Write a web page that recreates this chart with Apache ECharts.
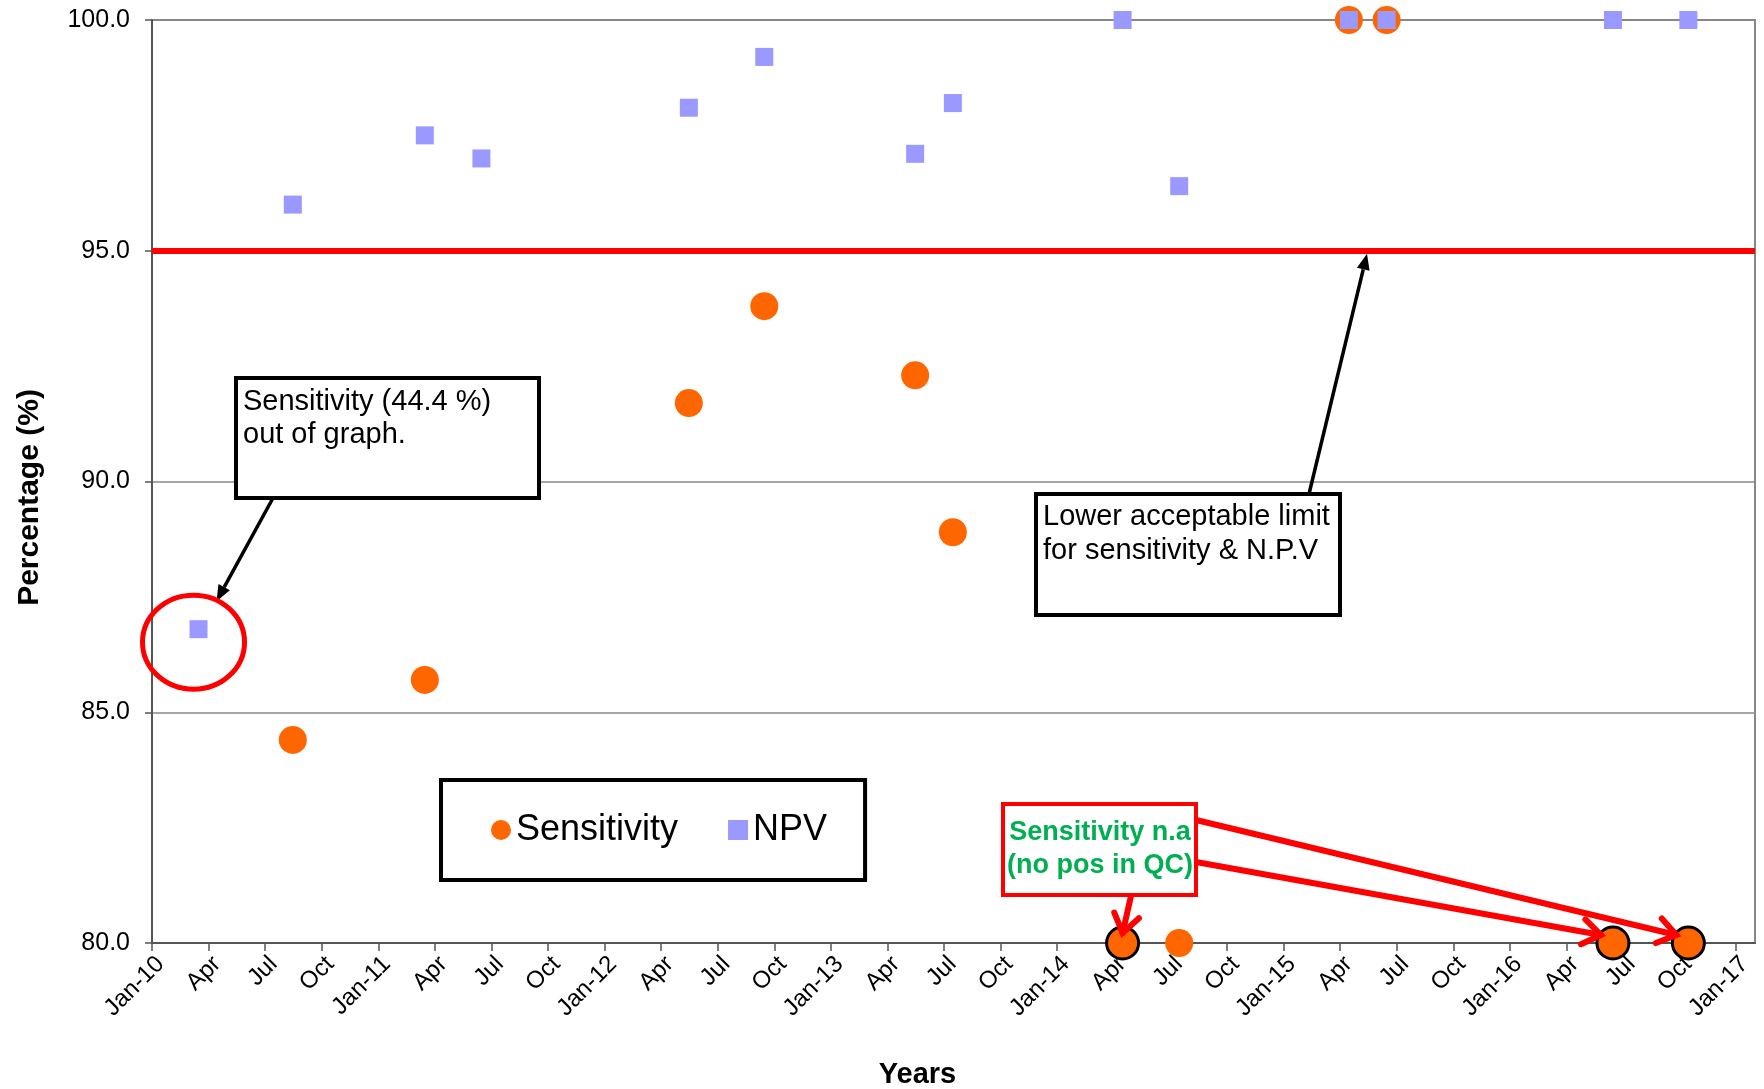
<!DOCTYPE html>
<html>
<head>
<meta charset="utf-8">
<script src="https://cdn.jsdelivr.net/npm/echarts@6/dist/echarts.min.js"></script>
<style>
html,body{margin:0;padding:0;background:#ffffff;}
#chart{width:1764px;height:1089px;}
</style>
</head>
<body>
<div id="chart"></div>
<script>
// ---------------- DATA ----------------
const tickLabels = ['Jan-10','Apr','Jul','Oct','Jan-11','Apr','Jul','Oct','Jan-12','Apr','Jul','Oct',
  'Jan-13','Apr','Jul','Oct','Jan-14','Apr','Jul','Oct','Jan-15','Apr','Jul','Oct','Jan-16','Apr','Jul','Oct','Jan-17'];
const sampleDates = ['2010-03-15','2010-08-15','2011-03-15','2011-06-15','2012-05-15','2012-09-15',
  '2013-05-15','2013-07-15','2014-04-15','2014-07-15','2015-04-15','2015-06-15','2016-06-15','2016-10-15'];
// Sensitivity (%) ; first value 44.4 is out of graph ; null = no result
const sensitivity = [44.4, 84.4, 85.7, null, 91.7, 93.8, 92.3, 88.9, 80, 80, 100, 100, 80, 80];
// Sensitivity not available (no positive in QC)
const sensNA = [false, false, false, false, false, false, false, false, true, false, false, false, true, true];
const npv = [86.8, 96.0, 97.5, 97.0, 98.1, 99.2, 97.1, 98.2, 100, 96.4, 100, 100, 100, 100];
const limitValue = 95;
const yTicks = [80, 85, 90, 95, 100];

// ---------------- HELPERS ----------------
const FONT = "'Liberation Sans', Arial, sans-serif";
const Y_MIN = 80, Y_MAX = 100;
function monthIndex(s) {
  const [y, m, d] = s.split('-').map(Number);
  return (y - 2010) * 12 + (m - 1) + (d - 1) / 30;
}
const xs = sampleDates.map(monthIndex);
const tickValues = tickLabels.map((_, i) => i * 3);

const sensData = [];
sensitivity.forEach((v, i) => {
  if (v === null || v < Y_MIN) return; // out of graph
  const item = { value: [xs[i], v] };
  if (sensNA[i]) {
    item.symbolSize = 32;
    item.itemStyle = { borderColor: '#000000', borderWidth: 3, opacity: 1 };
  }
  sensData.push(item);
});
const npvData = npv.map((v, i) => [xs[i], v]);

const chart = echarts.init(document.getElementById('chart'), null, { renderer: 'canvas' });

chart.setOption({
  animation: false,
  backgroundColor: '#ffffff',
  grid: {
    left: 152, right: 9, top: 20, bottom: 146,
    outerBoundsMode: 'none', containLabel: false,
    show: true, borderColor: '#888888', borderWidth: 2, backgroundColor: 'transparent'
  },
  legend: {
    left: 441, top: 780,
    orient: 'horizontal',
    padding: [32, 38, 32, 50],
    itemGap: 50, itemWidth: 20, itemHeight: 20,
    backgroundColor: '#ffffff', borderColor: '#000000', borderWidth: 4,
    textStyle: { fontSize: 36, color: '#000000', fontFamily: FONT },
    data: [{ name: 'Sensitivity', icon: 'circle' }, { name: 'NPV', icon: 'rect' }]
  },
  xAxis: {
    type: 'value', min: 0, max: 85,
    name: 'Years', nameLocation: 'middle', nameGap: 117,
    nameTextStyle: { fontSize: 29, fontWeight: 'bold', color: '#000000', fontFamily: FONT, padding: [0, 72, 0, 0] },
    axisLine: { show: true, onZero: false, lineStyle: { color: '#555555', width: 2 } },
    axisTick: { show: true, length: 8, customValues: tickValues, lineStyle: { color: '#555555', width: 1.5 } },
    axisLabel: {
      customValues: tickValues, rotate: 45, margin: 9, fontSize: 24, color: '#000000', fontFamily: FONT,
      align: 'right', verticalAlign: 'top',
      formatter: function (v) { const i = Math.round(v / 3); return tickLabels[i] || ''; }
    },
    splitLine: { show: false }
  },
  yAxis: {
    type: 'value', min: Y_MIN, max: Y_MAX, interval: 5,
    name: 'Percentage (%)', nameLocation: 'middle', nameGap: 107,
    nameTextStyle: { fontSize: 30, fontWeight: 'bold', color: '#000000', fontFamily: FONT, padding: [0, 32, 0, 0] },
    axisLine: { show: true, lineStyle: { color: '#555555', width: 2 } },
    axisTick: { show: true, length: 7, lineStyle: { color: '#555555', width: 1.5 } },
    axisLabel: {
      margin: 22, fontSize: 25, color: '#000000', fontFamily: FONT,
      formatter: function (v) { return yTicks.indexOf(v) >= 0 ? v.toFixed(1) : ''; }
    },
    splitLine: { show: true, lineStyle: { color: '#888888', width: 1.5 } }
  },
  series: [
    {
      name: 'Sensitivity', type: 'scatter', symbol: 'circle', symbolSize: 28, clip: false,
      itemStyle: { color: '#FF6600', opacity: 1 },
      data: sensData,
      z: 3
    },
    {
      name: 'NPV', type: 'scatter', symbol: 'rect', symbolSize: 18, clip: false,
      itemStyle: { color: '#9999FF', opacity: 1 },
      data: npvData,
      z: 4,
      markLine: {
        silent: true, symbol: ['none', 'none'], label: { show: false },
        lineStyle: { color: '#FF0000', width: 6, type: 'solid', opacity: 1 },
        emphasis: { disabled: true },
        data: [{ yAxis: limitValue }],
        z: 2
      }
    }
  ]
});

// ---------------- ANNOTATIONS ----------------
function px(x, y) { return chart.convertToPixel({ gridIndex: 0 }, [x, y]); }
function filledArrow(p0, p1, color, width, headLen, headW) {
  const dx = p1[0] - p0[0], dy = p1[1] - p0[1], L = Math.hypot(dx, dy);
  const ux = dx / L, uy = dy / L, nx = -uy, ny = ux;
  const bx = p1[0] - ux * headLen, by = p1[1] - uy * headLen;
  return [
    { type: 'line', z: 100, shape: { x1: p0[0], y1: p0[1], x2: bx, y2: by }, style: { stroke: color, lineWidth: width } },
    { type: 'polygon', z: 100, shape: { points: [[p1[0], p1[1]], [bx + nx * headW / 2, by + ny * headW / 2], [bx - nx * headW / 2, by - ny * headW / 2]] }, style: { fill: color } }
  ];
}
function openArrow(p0, p1, color, width, barb) {
  const dx = p1[0] - p0[0], dy = p1[1] - p0[1], L = Math.hypot(dx, dy);
  const ux = -dx / L, uy = -dy / L;
  const a = 35 * Math.PI / 180;
  const r1 = [ux * Math.cos(a) - uy * Math.sin(a), ux * Math.sin(a) + uy * Math.cos(a)];
  const r2 = [ux * Math.cos(-a) - uy * Math.sin(-a), ux * Math.sin(-a) + uy * Math.cos(-a)];
  return [
    { type: 'line', z: 100, shape: { x1: p0[0], y1: p0[1], x2: p1[0], y2: p1[1] }, style: { stroke: color, lineWidth: width, lineCap: 'round' } },
    { type: 'polyline', z: 100, shape: { points: [[p1[0] + r1[0] * barb, p1[1] + r1[1] * barb], [p1[0], p1[1]], [p1[0] + r2[0] * barb, p1[1] + r2[1] * barb]] }, style: { stroke: color, lineWidth: width, fill: null, lineJoin: 'miter', lineCap: 'round' } }
  ];
}

const pNpv0 = px(xs[0], npv[0]);
const limY = px(0, limitValue)[1];
const pNA1 = px(xs[8], sensitivity[8]);
const pNA2 = px(xs[12], sensitivity[12]);
const pNA3 = px(xs[13], sensitivity[13]);

const g = [];
// Box 1 : sensitivity out of graph
g.push({ type: 'rect', z: 100, shape: { x: 236, y: 378, width: 303, height: 120 }, style: { fill: '#ffffff', stroke: '#000000', lineWidth: 4 } });
g.push({ type: 'text', z: 101, x: 243, y: 385, style: { text: 'Sensitivity (' + sensitivity[0] + ' %)\nout of graph.', font: '29px ' + FONT, fill: '#000000', lineHeight: 33, verticalAlign: 'top', align: 'left' } });
g.push(...filledArrow([273, 498], [pNpv0[0] + 18, pNpv0[1] - 28], '#000000', 3.5, 16, 13));
g.push({ type: 'ellipse', z: 100, shape: { cx: pNpv0[0] - 5, cy: pNpv0[1] + 13, rx: 51, ry: 47 }, style: { fill: null, stroke: '#FF0000', lineWidth: 5 } });

// Box 2 : lower acceptable limit
g.push({ type: 'rect', z: 100, shape: { x: 1036, y: 494, width: 304, height: 121 }, style: { fill: '#ffffff', stroke: '#000000', lineWidth: 4 } });
g.push({ type: 'text', z: 101, x: 1043, y: 500, style: { text: 'Lower acceptable limit\nfor sensitivity & N.P.V', font: '29px ' + FONT, fill: '#000000', lineHeight: 34, verticalAlign: 'top', align: 'left' } });
g.push(...filledArrow([1309, 494], [1367, limY + 3], '#000000', 3.5, 16, 13));

// Box 3 : sensitivity n.a
g.push(...openArrow([1131, 896], [pNA1[0], pNA1[1] - 10], '#FF0000', 6, 22));
g.push(...openArrow([1196, 820], [pNA3[0] - 12, pNA3[1] - 8], '#FF0000', 6, 22));
g.push(...openArrow([1196, 862], [pNA2[0] - 12, pNA2[1] - 8], '#FF0000', 6, 22));
g.push({ type: 'rect', z: 102, shape: { x: 1003, y: 804, width: 193, height: 91 }, style: { fill: '#ffffff', stroke: '#FF0000', lineWidth: 4 } });
g.push({ type: 'text', z: 103, x: 1100, y: 816, style: { text: 'Sensitivity n.a\n(no pos in QC)', font: 'bold 27px ' + FONT, fill: '#00B050', lineHeight: 33, verticalAlign: 'top', align: 'center' } });

chart.setOption({ graphic: { elements: g } });
</script>
</body>
</html>
